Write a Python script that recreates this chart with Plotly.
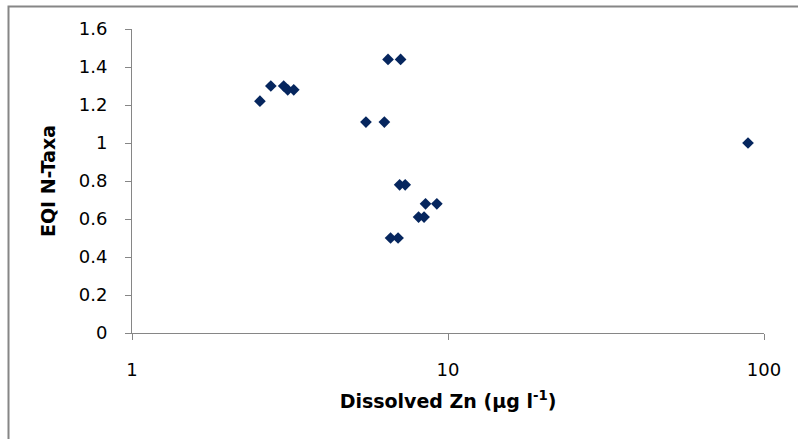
import plotly.graph_objects as go

# Data
zn = [2.54, 2.75, 3.02, 3.11, 3.25, 5.5, 6.29, 6.46, 7.08, 7.03, 7.32, 8.49, 9.22, 8.07, 8.4, 6.58, 6.95, 89.0]
eqi = [1.22, 1.30, 1.30, 1.28, 1.28, 1.11, 1.11, 1.44, 1.44, 0.78, 0.78, 0.68, 0.68, 0.61, 0.61, 0.50, 0.50, 1.00]
y_ticks = [0, 0.2, 0.4, 0.6, 0.8, 1, 1.2, 1.4, 1.6]
y_tick_text = ["0", "0.2", "0.4", "0.6", "0.8", "1", "1.2", "1.4", "1.6"]
x_ticks = [1, 10, 100]
x_tick_text = ["1", "10", "100"]

W, H = 798, 439
ml, mr, mt, mb = 132, 34, 29, 106
pw, ph = W - ml - mr, H - mt - mb

fig = go.Figure()
fig.add_trace(go.Scatter(
    x=zn, y=eqi, mode="markers",
    marker=dict(symbol="diamond", size=9, color="#06265e", line=dict(width=0)),
    showlegend=False, cliponaxis=False,
))

axis_col = "#868686"
fam = "DejaVu Sans, Verdana, sans-serif"
tick_font = dict(family=fam, size=18, color="#000000")

fig.update_layout(
    width=W, height=H,
    margin=dict(l=ml, r=mr, t=mt, b=mb, pad=0),
    paper_bgcolor="white", plot_bgcolor="white",
    xaxis=dict(
        type="log", range=[0, 2],
        tickvals=x_ticks, ticktext=x_tick_text,
        showgrid=False, zeroline=False,
        showline=True, linecolor=axis_col, linewidth=1,
        ticks="outside", ticklen=6, tickcolor=axis_col, tickwidth=1,
        tickfont=tick_font, ticklabelstandoff=14,
        title=dict(text="Dissolved Zn (μg l<sup>-1</sup>)",
                   font=dict(family=fam, size=19, color="#000000", weight="bold"),
                   standoff=16),
    ),
    yaxis=dict(
        range=[0, 1.6],
        tickvals=y_ticks, ticktext=y_tick_text,
        showgrid=False, zeroline=False,
        showline=True, linecolor=axis_col, linewidth=1,
        ticks="outside", ticklen=6, tickcolor=axis_col, tickwidth=1,
        tickfont=tick_font, ticklabelstandoff=14,
        title=dict(text="EQI N-Taxa",
                   font=dict(family=fam, size=19, color="#000000", weight="bold"),
                   standoff=18),
    ),
)

# Outer chart frame (left and top edges visible; right/bottom lie outside the view)
fig.add_shape(
    type="rect", xref="paper", yref="paper",
    x0=(8.5 - ml) / pw, x1=(830 - ml) / pw,
    y0=-(460 - (H - mb)) / ph, y1=1 + (mt - 6.5) / ph,
    line=dict(color=axis_col, width=2), fillcolor="rgba(0,0,0,0)", layer="below",
)

fig.write_html("out.html")
